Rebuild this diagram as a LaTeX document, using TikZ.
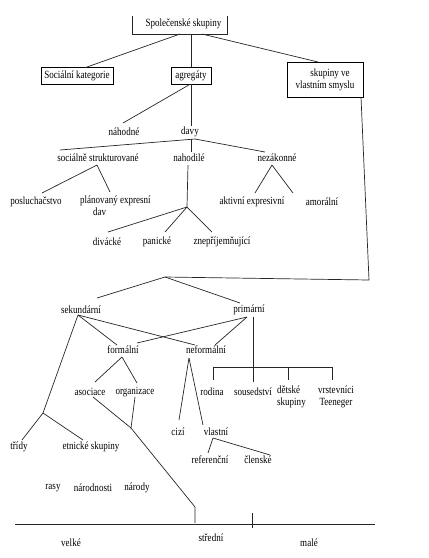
\documentclass[tikz,border=0pt]{standalone}
\usepackage{fontspec}
\setmainfont{Liberation Serif}[FakeStretch=0.82]
\begin{document}
\begin{tikzpicture}[x=1pt,y=-1pt,
  lbl/.style={inner sep=0pt,font=\fontsize{11}{12}\selectfont},
  bx/.style={draw,line width=0.7pt,inner sep=0pt},
  ln/.style={line width=0.7pt,draw=black!85}]
\useasboundingbox (0,0) rectangle (429,558);
% boxes
\node[inner sep=0pt,minimum width=94pt,minimum height=18pt] (topb) at (180,25) {};
\draw[ln] (topb.north west) -- (topb.south west) -- (topb.south east) -- (topb.north east);
\node[lbl] (top) at (183.5,23.5) {Společenské skupiny};
\node[bx,lbl,minimum width=72pt,minimum height=17pt] (soc) at (77,76.3) {Sociální kategorie};
\node[bx,lbl,minimum width=40pt,minimum height=16.7pt] (agr) at (191,76) {agregáty};
\node[bx,lbl,minimum width=76pt,minimum height=35pt,align=center] (skup) at (325,79.5) {\hspace{10pt}skupiny ve\\vlastním smyslu};
% level texts
\node[lbl] (nah) at (124,132) {náhodné};
\node[lbl] (davy) at (190,132) {davy};
\node[lbl] (socs) at (98,158) {sociálně strukturované};
\node[lbl] (nahod) at (189,158) {nahodilé};
\node[lbl] (nez) at (277,158) {nezákonné};
\node[lbl] (posl) at (36,202) {posluchačstvo};
\node[lbl,align=left,anchor=north west] (plan) at (80,196) {plánovaný expresní\\\hspace{13pt}dav};
\node[lbl] (akt) at (252,202) {aktivní expresivní};
\node[lbl] (amo) at (322,202) {amorální};
\node[lbl] (div) at (107,242) {divácké};
\node[lbl] (pan) at (157,242) {panické};
\node[lbl] (zne) at (222,242) {znepříjemňující};
\node[lbl] (sek) at (81,310) {sekundární};
\node[lbl] (pri) at (249,310) {primární};
\node[lbl] (for) at (123,350) {formální};
\node[lbl] (nef) at (206,350) {neformální};
\node[lbl] (aso) at (90,392) {asociace};
\node[lbl] (org) at (135,392) {organizace};
\node[lbl] (rod) at (212,392) {rodina};
\node[lbl] (sou) at (253,392) {sousedství};
\node[lbl,align=left,anchor=north west] (det) at (277,386) {dětské\\skupiny};
\node[lbl,align=center,anchor=north] (vrs) at (336,386) {vrstevníci\\Teeneger};
\node[lbl] (tri) at (19,447) {třídy};
\node[lbl] (etn) at (91,447) {etnické skupiny};
\node[lbl] (ciz) at (178,432) {cizí};
\node[lbl] (vla) at (216,432) {vlastní};
\node[lbl] (ref) at (210,460) {referenční};
\node[lbl] (cle) at (258,460) {členské};
\node[lbl] (ras) at (53,488) {rasy};
\node[lbl] (nar) at (93,488) {národnosti};
\node[lbl] (nad) at (137,488) {národy};
\node[lbl] (vel) at (71,543) {velké};
\node[lbl] (str) at (211,538) {střední};
\node[lbl] (mal) at (309,543) {malé};
% junction coordinates
\coordinate (jd) at (195,139);
\coordinate (jn) at (187,207);
\coordinate (jr) at (369,280);
\coordinate (jm) at (165,277);
\coordinate (jt) at (43,413);
\coordinate (jo) at (131,428);
\coordinate (jb) at (195,507);
\coordinate (jx) at (195,523);
\coordinate (jf) at (122,357);
\coordinate (je) at (189,358);
\coordinate (jv) at (213,438);
\coordinate (jsoc) at (78,315);
\coordinate (jsz) at (97,165);
\coordinate (jnz) at (272,165);
\coordinate (jp) at (247,317);
\coordinate (bl) at (213,367);
\coordinate (br) at (332,367);
\coordinate (ax1) at (15,524);
\coordinate (ax2) at (375,524);
\coordinate (tk1) at (252,513);
\coordinate (tk2) at (252,528);
% connectors
\draw[ln] (180,34) -- (85,67.7);
\draw[ln] (topb.south -| agr.north) -- (agr.north);
\draw[ln] (202,34) -- (318,62);
\draw[ln] (190,84.3) -- (123,123);
\draw[ln] (191,84.3) -- (191,126);
\draw[ln] (jd) -- (60,150);
\draw[ln] (191,139) -- (191,152);
\draw[ln] (jd) -- (265,152);
\draw[ln] (jsz) -- (42,193);
\draw[ln] (jsz) -- (110,192);
\draw[ln] (188,165) -- (jn);
\draw[ln] (jn) -- (108,232);
\draw[ln] (jn) -- (165,232);
\draw[ln] (jn) -- (212,232);
\draw[ln] (jnz) -- (255,193);
\draw[ln] (jnz) -- (293,193);
\draw[ln] (361,97) -- (jr) -- (jm);
\draw[ln] (jm) -- (97,298);
\draw[ln] (jm) -- (240,303);
\draw[ln] (jsoc) -- (117,345);
\draw[ln] (jsoc) -- (195,345);
\draw[ln] (jsoc) -- (jt);
\draw[ln] (jp) -- (137,343);
\draw[ln] (jp) -- (215,345);
\draw[ln] (253,317) -- (253,382);
\draw[ln] (bl) -- (br);
\draw[ln] (bl) -- (213,380);
\draw[ln] (288,367) -- (288,380);
\draw[ln] (br) -- (332,380);
\draw[ln] (jf) -- (95,382);
\draw[ln] (jf) -- (137,383);
\draw[ln] (93,397) -- (jo);
\draw[ln] (135,397) -- (jo);
\draw[ln] (jo) -- (jb) -- (jx);
\draw[ln] (jt) -- (22,440);
\draw[ln] (jt) -- (83,440);
\draw[ln] (je) -- (179,420);
\draw[ln] (je) -- (203,425);
\draw[ln] (jv) -- (208,453);
\draw[ln] (jv) -- (270,455);
\draw[ln] (ax1) -- (ax2);
\draw[ln] (tk1) -- (tk2);
\end{tikzpicture}
\end{document}
